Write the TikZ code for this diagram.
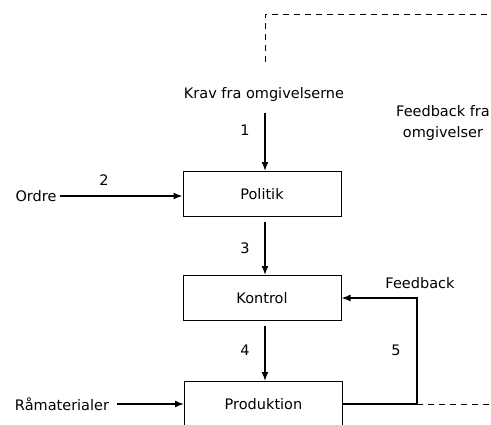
\documentclass[tikz,border=0pt]{standalone}
\usepackage{fontspec}
\setmainfont{DejaVu Sans}
\usepackage{tikz}
\usetikzlibrary{arrows.meta}

\begin{document}
\begin{tikzpicture}[x=1pt,y=-1pt,
    every node/.style={font=\fontsize{14.5}{21}\selectfont},
    blok/.style={draw,line width=1pt,minimum width=158pt,minimum height=45pt,inner sep=0pt},
    pil/.style={line width=1.5pt,-{Latex[length=9pt,width=7pt]}},
    stiplet/.style={line width=1pt,dash pattern=on 6pt off 5pt}]
          \useasboundingbox (0,0) rectangle (491,424);
          \node[blok] (politik) at (262,194) {Politik};
          \node[blok] (kontrol) at (262,298) {Kontrol};
          \node[blok] (produktion) at (263.5,404) {Produktion};

          \node (krav) at (264,94) {Krav fra omgivelserne};
          \node[align=center] (fbomg) at (443,123) {Feedback fra\\omgivelser};
          \node (ordre) at (36,196) {Ordre};
          \node (raa) at (62,404) {Råmaterialer};
          \node (fb) at (420,283) {Feedback};

          \coordinate (knaek) at (417,404);
          \coordinate (slut) at (495,404);
          \coordinate (top1) at (265,62);
          \coordinate (top2) at (265,14);
          \coordinate (top3) at (495,14);
           % % ARROWS
          \draw[pil] (265,113) -- (politik.north -| 265,0);
          \draw[pil] (ordre.east) -- (ordre.east -| politik.west);
          \draw[pil,shorten <=5pt] (politik.south -| 265,0) -- (kontrol.north -| 265,0);
          \draw[pil,shorten <=5pt] (kontrol.south -| 265,0) -- (produktion.north -| 265,0);
          \draw[pil,shorten <=4pt] (raa.east) -- (raa.east -| produktion.west);
          \draw[pil] (produktion.east) -- (knaek) |- (kontrol.east);
          \draw[stiplet] (knaek) -- (slut);
          \draw[stiplet] (top1) -- (top2) -- (top3);

          % % NUMBERS
          \node at (245,130) {1};
          \node at (104,180) {2};
          \node at (245,248) {3};
          \node at (245,350) {4};
          \node at (396,350) {5};
        \end{tikzpicture}
\end{document}
